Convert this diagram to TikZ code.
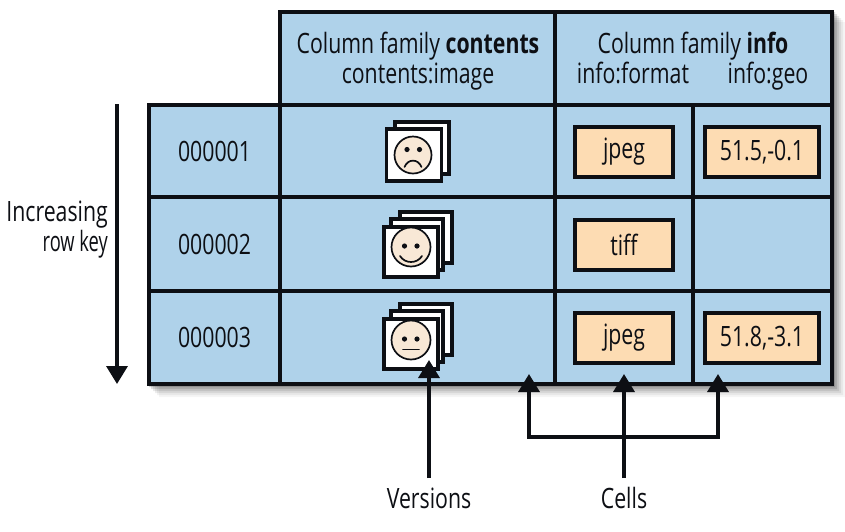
\documentclass[tikz,border=0pt]{standalone}
\usepackage{fontspec}
\setmainfont[FakeStretch=0.76]{Open Sans}
\usetikzlibrary{arrows.meta}
\definecolor{cellblue}{HTML}{AFD2EA}
\definecolor{celltan}{HTML}{FDDCB3}
\definecolor{facetan}{HTML}{F8E8D6}
\definecolor{ink}{HTML}{0D0F14}
\tikzset{
  txt/.style={font=\fontsize{28}{30}\selectfont,text=ink,inner sep=0pt},
  basetxt/.style={txt,anchor=base},
  tablecell/.style={draw=ink,fill=cellblue,line width=3.5pt,rectangle,outer sep=0pt,inner sep=0pt,font=\fontsize{28}{30}\selectfont,text=ink},
  valuebox/.style={draw=ink,fill=celltan,line width=3.5pt,rectangle,outer sep=0pt,inner sep=0pt,minimum height=50pt,font=\fontsize{28}{30}\selectfont,text=ink},
  card/.style={draw=ink,fill=white,line width=3.8pt,rectangle,outer sep=0pt,inner sep=0pt},
  face/.style={draw=ink,fill=facetan,line width=1.7pt,circle,outer sep=0pt,inner sep=0pt,minimum size=37pt},
  feature/.style={draw=ink,line width=1.7pt,line cap=round},
  eye/.style={fill=ink},
  pointer/.style={draw=ink,line width=3.5pt,-{Triangle[length=18pt,width=21pt]}},
  plainline/.style={draw=ink,line width=3.5pt},
}
\begin{document}
\begin{tikzpicture}[x=1pt,y=-1pt]
\useasboundingbox (0,0) rectangle (845,531);
\fill[white] (0,0) rectangle (845,531);
% soft drop shadow
\foreach \d/\o in {13/0.04,11/0.05,9/0.07,7/0.09,5/0.12,3/0.16}{
  \fill[black,opacity=\o] (149+\d-3,105) -- (280,105) -- (280,12+\d-3) -- (832+\d,12+\d-3) -- (832+\d,384+\d) -- (149+\d-3,384+\d) -- cycle;
}
% table cells
\node[tablecell,minimum width=275pt,minimum height=93pt] (hcontents) at (417.5,58.5) {};
\node[tablecell,minimum width=277pt,minimum height=93pt] (hinfo) at (693.5,58.5) {};
\node[tablecell,minimum width=131pt,minimum height=92pt] (keya) at (214.5,151) {000001};
\node[tablecell,minimum width=131pt,minimum height=94pt] (keyb) at (214.5,244) {000002};
\node[tablecell,minimum width=131pt,minimum height=93pt] (keyc) at (214.5,337.5) {000003};
\node[tablecell,minimum width=275pt,minimum height=92pt] (imga) at (417.5,151) {};
\node[tablecell,minimum width=275pt,minimum height=94pt] (imgb) at (417.5,244) {};
\node[tablecell,minimum width=275pt,minimum height=93pt] (imgc) at (417.5,337.5) {};
\node[tablecell,minimum width=138pt,minimum height=92pt] (fmta) at (624,151) {};
\node[tablecell,minimum width=138pt,minimum height=94pt] (fmtb) at (624,244) {};
\node[tablecell,minimum width=138pt,minimum height=93pt] (fmtc) at (624,337.5) {};
\node[tablecell,minimum width=139pt,minimum height=92pt] (geoa) at (762.5,151) {};
\node[tablecell,minimum width=139pt,minimum height=94pt] (geob) at (762.5,244) {};
\node[tablecell,minimum width=139pt,minimum height=93pt] (geoc) at (762.5,337.5) {};
% header text
\node[basetxt] (t1) at (418,53) {Column family \textbf{contents}};
\node[basetxt] (t2) at (418,83) {contents:image};
\node[basetxt] (t3) at (693,53) {Column family \textbf{info}};
\node[basetxt] (t4) at (633,83) {info:format};
\node[basetxt] (t5) at (768,83) {info:geo};
% values
\node[valuebox,minimum width=98pt] (va) at (624,152) {jpeg};
\node[valuebox,minimum width=114pt] (vb) at (762,152) {51.5,-0.1};
\node[valuebox,minimum width=98pt] (vc) at (624,245) {tiff};
\node[valuebox,minimum width=98pt] (vd) at (624,338) {jpeg};
\node[valuebox,minimum width=114pt] (ve) at (762,338) {51.8,-3.1};
% versions 1
\node[card,minimum width=54pt,minimum height=52pt] (c1b) at (422,148) {};
\node[card,minimum width=55pt,minimum height=52pt] (c1a) at (414,155) {};
\node[face] (f1) at (413,155) {};
\fill[eye] (407,149.5) circle (2.6pt) (419.5,149.5) circle (2.6pt);
\draw[feature] (404.5,167) .. controls (408,158.5) and (418,158.5) .. (421.5,167);
% versions 2
\node[card,minimum width=52pt,minimum height=51pt] (c2c) at (426,237.5) {};
\node[card,minimum width=52pt,minimum height=51pt] (c2b) at (417,244.5) {};
\node[card,minimum width=54pt,minimum height=50pt] (c2a) at (411,252) {};
\node[face,minimum size=39pt] (f2) at (411,247) {};
\fill[eye] (404.5,246) circle (2.6pt) (417,246) circle (2.6pt);
\draw[feature] (400,256) .. controls (405,264) and (417,264) .. (422,256);
% versions 3
\node[card,minimum width=52pt,minimum height=51pt] (c3c) at (426,329.5) {};
\node[card,minimum width=52pt,minimum height=51pt] (c3b) at (417,336.5) {};
\node[card,minimum width=54pt,minimum height=50pt] (c3a) at (411,344) {};
\node[face,minimum size=39pt] (f3) at (411,340) {};
\fill[eye] (404.5,339) circle (2.6pt) (417,339) circle (2.6pt);
\draw[feature] (403,349.5) -- (419,349.5);
% side label and arrow
\node[txt,anchor=base east] (inc) at (108,221) {Increasing};
\node[txt,anchor=base east,xscale=0.86] (rk) at (108,251) {row key};
\coordinate (rowtop) at (117,104);
\coordinate (rowend) at (117,384);
\draw[pointer] (rowtop) -- (rowend);
% bottom labels
\node[basetxt] (versions) at (429,508) {Versions};
\node[basetxt] (cells) at (624,508) {Cells};
\coordinate (vtip) at (429,360);
\coordinate (vstart) at (429,478);
\coordinate (cstart) at (624,478);
\coordinate (cjoin) at (624,437);
\coordinate (lcorner) at (529,437);
\coordinate (rcorner) at (718,437);
\coordinate (ltip) at (529,374);
\coordinate (mtip) at (624,374);
\coordinate (rtip) at (718,374);
\draw[pointer] (vstart) -- (vtip);
\draw[plainline] (cstart) -- (cjoin);
\draw[pointer] (cjoin) -- (mtip);
\draw[pointer] (cjoin) -- (lcorner) -- (ltip);
\draw[pointer] (cjoin) -- (rcorner) -- (rtip);
\end{tikzpicture}
\end{document}
